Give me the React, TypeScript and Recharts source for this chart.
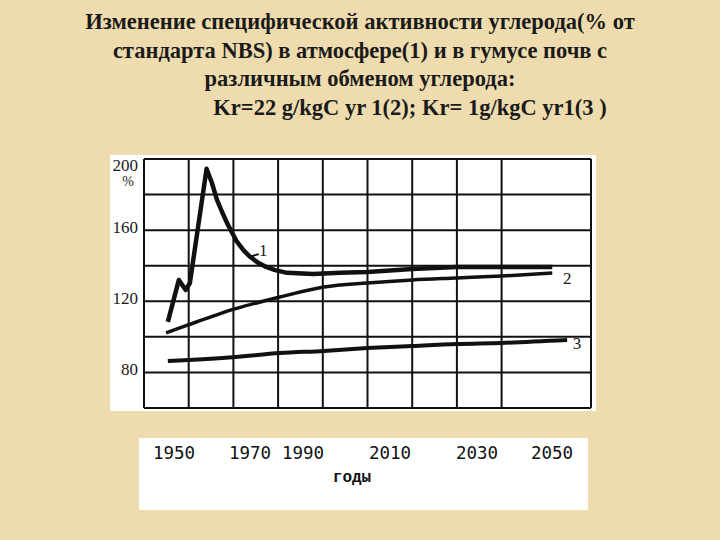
import React from 'react';
import { LineChart, Line, XAxis, YAxis, CartesianGrid, ReferenceDot, ReferenceLine } from 'recharts';

const TITLE_LINES = [
  'Изменение специфической активности углерода(% от',
  'стандарта NBS) в атмосфере(1) и в гумусе почв с',
  'различным обменом углерода:',
  'Kr=22 g/kgC yr 1(2); Kr= 1g/kgC yr1(3 )',
];

// grid columns (hidden x axis), rows every 20 %
const X_GRID = [1940, 1955, 1970, 1985, 2000, 2015, 2030, 2045, 2060, 2075, 2090];
const Y_GRID = [60, 80, 100, 120, 140, 160, 180, 200];
const Y_LABELED = [200, 160, 120, 80];

// curve 1 - atmosphere
const ATM_YEARS = [1948, 1951.7, 1954, 1955.4, 1961, 1962.8, 1964.5, 1966.2, 1968, 1971, 1973.5, 1975.6, 1978, 1981, 1984, 1988, 1996.7, 2005.8, 2015, 2030, 2045, 2060, 2077];
const ATM_VALUES = [108.4, 132, 126.4, 130.3, 194.5, 186.5, 177, 170.2, 163.5, 154, 148.5, 145, 142, 139.3, 137.5, 136, 135.3, 136, 136.5, 138.2, 139.3, 139.3, 139.3];

// curve 2 - humus, Kr = 22
const FAST_YEARS = [1947.4, 1954.8, 1970.5, 1985.6, 2000.4, 2015, 2030, 2045, 2060, 2077];
const FAST_VALUES = [102.2, 106.7, 115.7, 122.4, 128, 130.3, 132, 133.1, 134.2, 135.9];

// curve 3 - humus, Kr = 1
const SLOW_YEARS = [1948, 1970.5, 1985.6, 2000.4, 2015, 2030, 2045, 2060, 2082];
const SLOW_VALUES = [86.4, 88.7, 90.9, 92.1, 93.7, 94.9, 96, 96.6, 98.2];

const BOTTOM_LABELS = ['1950', '1970', '1990', '2010', '2030', '2050'];
const BOTTOM_LABEL_X = [174, 250, 303, 390, 477, 552];

const toRows = (xs: number[], ys: number[]) => xs.map((x, i) => ({ year: x, value: ys[i] }));

const atmData = toRows(ATM_YEARS, ATM_VALUES);
const fastData = toRows(FAST_YEARS, FAST_VALUES);
const slowData = toRows(SLOW_YEARS, SLOW_VALUES);

const serif = '"Liberation Serif", "Times New Roman", serif';

const YTick = (props: any) => {
  const { x, y, payload } = props;
  if (!Y_LABELED.includes(payload.value)) return null;
  return (
    <g>
      <text x={x + 2} y={y} dy={payload.value === 200 ? 12 : 3} textAnchor="end" fontFamily={serif} fontSize={17} fill="#1a1a1a">
        {payload.value}
      </text>
      {payload.value === 200 && (
        <text x={x - 8} y={y + 27} textAnchor="middle" fontFamily={serif} fontSize={14} fill="#1a1a1a">%</text>
      )}
    </g>
  );
};

const curveLabel = (text: string) => (p: any) => (
  <text x={p.viewBox.x} y={p.viewBox.y + 6} textAnchor="middle" fontFamily={serif} fontSize={17} fill="#1a1a1a">{text}</text>
);

export default function App() {
  return (
    <div style={{ position: 'fixed', left: 0, top: 0, width: 720, height: 540, background: '#efdcae', overflow: 'hidden' }}>
      {TITLE_LINES.map((line, i) => (
        <div
          key={i}
          style={{
            position: 'absolute', left: i === 3 ? 50 : 0, top: 9 + i * 28.6, width: 720, textAlign: 'center',
            fontFamily: serif, fontWeight: 700, fontSize: 22.5, lineHeight: '26px', color: '#1a1a1a', whiteSpace: 'nowrap',
          }}
        >
          {line}
        </div>
      ))}

      <div style={{ position: 'absolute', left: 110, top: 155, width: 486, height: 256, background: '#fff' }}>
        <LineChart width={486} height={256} data={atmData} margin={{ top: 4, right: 5, bottom: 3, left: 0 }} style={{ overflow: 'visible' }}>
          <CartesianGrid stroke="#111" strokeWidth={2} />
          <XAxis dataKey="year" type="number" domain={[1940, 2090]} ticks={X_GRID} hide allowDuplicatedCategory={false} />
          <YAxis type="number" domain={[60, 200]} ticks={Y_GRID} width={34} axisLine={false} tickLine={false} tick={<YTick />} interval={0} />
          <Line data={fastData} dataKey="value" type="monotone" stroke="#111" strokeWidth={3.5} dot={false} isAnimationActive={false} />
          <Line data={slowData} dataKey="value" type="monotone" stroke="#111" strokeWidth={4} dot={false} isAnimationActive={false} />
          <Line data={atmData} dataKey="value" type="linear" stroke="#111" strokeWidth={4.5} strokeLinejoin="round" dot={false} isAnimationActive={false} />
          <ReferenceLine segment={[{ x: 1975.5, y: 145 }, { x: 1978.5, y: 146.5 }]} stroke="#111" strokeWidth={2} />
          <ReferenceDot x={1980} y={148.8} r={0} label={curveLabel('1')} />
          <ReferenceDot x={2082} y={133.1} r={0} label={curveLabel('2')} />
          <ReferenceDot x={2085.3} y={96.6} r={0} label={curveLabel('3')} />
        </LineChart>
      </div>

      <div style={{ position: 'absolute', left: 139, top: 438, width: 449, height: 72, background: '#fff' }}>
        {BOTTOM_LABELS.map((lab, i) => (
          <div
            key={lab}
            style={{
              position: 'absolute', left: BOTTOM_LABEL_X[i] - 139 - 30, top: 5, width: 60, textAlign: 'center',
              fontFamily: '"DejaVu Sans Mono", monospace', fontSize: 17.5, color: '#111',
            }}
          >
            {lab}
          </div>
        ))}
        <div
          style={{
            position: 'absolute', left: 352 - 139 - 40, top: 31, width: 80, textAlign: 'center',
            fontFamily: '"Liberation Mono", monospace', fontWeight: 700, fontSize: 16, color: '#111',
          }}
        >
          годы
        </div>
      </div>
    </div>
  );
}
